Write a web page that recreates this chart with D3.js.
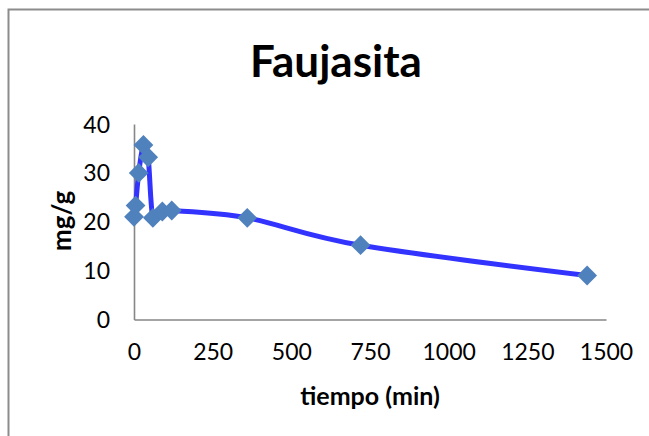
<!DOCTYPE html>
<html>
<head>
<meta charset="utf-8">
<script src="https://cdn.jsdelivr.net/npm/d3@7"></script>
<style>
  html, body { margin: 0; padding: 0; background: #fff; }
  svg { display: block; }
  text { font-family: Lato, "Open Sans", sans-serif; fill: #000; }
</style>
</head>
<body>
<svg id="chart" width="649" height="436"></svg>
<script>
// Adsorption over time on faujasite
const tiempo = [0, 5, 15, 30, 45, 60, 90, 120, 360, 720, 1440];
const mgPorG = [21, 23.3, 30, 35.7, 33.2, 20.8, 22.1, 22.3, 20.8, 15.2, 9.0];
const xTicks = [0, 250, 500, 750, 1000, 1250, 1500];
const yTicks = [0, 10, 20, 30, 40];

const svg = d3.select("#chart");
const W = 649, H = 436;

// chart frame
svg.append("rect")
  .attr("x", 8.5).attr("y", 9.5)
  .attr("width", W).attr("height", H)
  .attr("fill", "#fff")
  .attr("stroke", "#8c8c8c").attr("stroke-width", 2);

const x = d3.scaleLinear().domain([0, 1500]).range([134, 606]);
const y = d3.scaleLinear().domain([0, 40]).range([319.5, 124]);

// title
svg.append("text")
  .attr("x", 336).attr("y", 77)
  .attr("text-anchor", "middle")
  .attr("font-size", 44).attr("font-weight", 700)
  .text("Faujasita");

// axes
const xAxis = d3.axisBottom(x).tickValues(xTicks).tickSize(0).tickPadding(24)
  .tickFormat(d3.format("d"));
const yAxis = d3.axisLeft(y).tickValues(yTicks).tickSize(0).tickPadding(24)
  .tickFormat(d3.format("d"));

const gx = svg.append("g").attr("transform", `translate(0,${y(0)})`).call(xAxis);
const gy = svg.append("g").attr("transform", `translate(${x(0)},0)`).call(yAxis);

[gx, gy].forEach(g => {
  g.select(".domain").attr("stroke", "#868686").attr("stroke-width", 1.6);
  g.selectAll(".tick text")
    .attr("font-family", "Lato, 'Open Sans', sans-serif")
    .attr("font-size", 23).attr("fill", "#000");
});
gx.selectAll(".tick text").attr("dy", "0.71em");
gy.selectAll(".tick text").attr("dy", "0.35em");

// axis titles
svg.append("text")
  .attr("x", 370).attr("y", 405)
  .attr("text-anchor", "middle")
  .attr("font-size", 25).attr("font-weight", 700)
  .text("tiempo (min)");

svg.append("text")
  .attr("transform", "translate(71,221) rotate(-90)")
  .attr("text-anchor", "middle")
  .attr("font-size", 26).attr("font-weight", 700)
  .text("mg/g");

// smoothed series line
const pts = tiempo.map((t, i) => [t, mgPorG[i]]);
const line = d3.line()
  .x(d => x(d[0])).y(d => y(d[1]))
  .curve(d3.curveCardinal.tension(0));

svg.append("path")
  .datum(pts)
  .attr("d", line)
  .attr("fill", "none")
  .attr("stroke", "#3333ff")
  .attr("stroke-width", 5)
  .attr("stroke-linejoin", "round");

// diamond markers
const diamond = d3.symbol().type(d3.symbolDiamond2).size(250);
svg.append("g").selectAll("path")
  .data(pts)
  .join("path")
  .attr("transform", d => `translate(${x(d[0])},${y(d[1])})`)
  .attr("d", diamond)
  .attr("fill", "#4f81bd");
</script>
</body>
</html>
